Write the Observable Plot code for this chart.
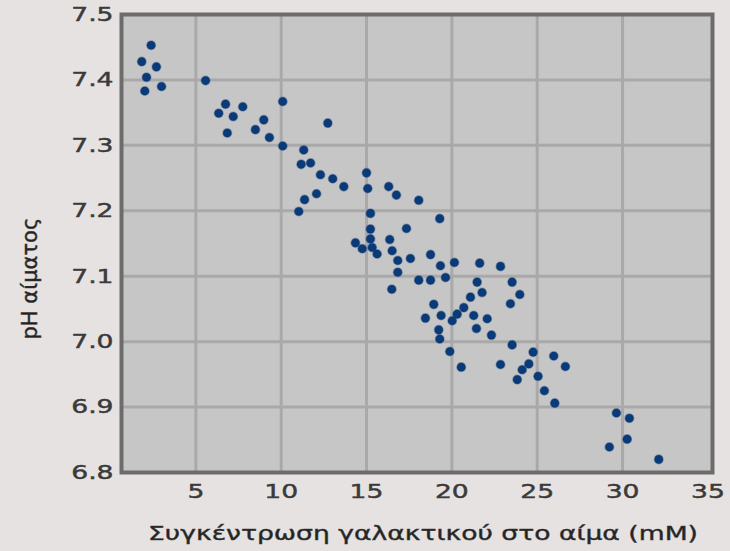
<!DOCTYPE html>
<html><head><meta charset="utf-8">
<script src="https://cdn.jsdelivr.net/npm/d3@7"></script>
<script src="https://cdn.jsdelivr.net/npm/@observablehq/plot@0.6"></script>
<style>
html,body{margin:0;padding:0;background:#e6e2e1;overflow:hidden;}
svg text{stroke:currentColor;stroke-width:0.45px;}
</style>
</head><body><div id="chart"></div>
<script>
const lactate = [2.38,1.83,2.69,2.11,5.57,2.99,2.01,6.74,7.75,10.09,6.34,7.19,8.98,12.73,6.84,8.49,9.31,10.09,11.32,11.17,11.72,12.30,13.02,13.67,15.00,15.07,16.30,16.75,18.06,12.07,11.37,11.03,15.23,19.29,17.34,15.23,14.35,15.23,14.75,15.33,15.62,16.36,16.50,16.83,17.57,18.75,19.33,20.15,21.63,22.85,16.83,18.06,18.75,19.63,16.48,21.48,21.77,21.09,20.70,20.31,18.94,18.45,19.37,20.02,21.28,22.07,19.23,19.29,21.44,22.32,19.88,23.53,23.98,23.43,23.53,20.55,22.85,24.76,25.97,26.65,24.51,24.12,23.83,25.05,25.42,26.03,29.64,30.40,30.27,29.23,32.12];
const ph = [7.453,7.428,7.420,7.404,7.399,7.390,7.383,7.363,7.359,7.367,7.349,7.344,7.339,7.334,7.319,7.324,7.312,7.299,7.293,7.271,7.273,7.255,7.249,7.237,7.258,7.234,7.237,7.224,7.216,7.226,7.217,7.199,7.196,7.188,7.173,7.172,7.151,7.157,7.142,7.144,7.134,7.156,7.139,7.124,7.127,7.133,7.116,7.121,7.120,7.115,7.106,7.094,7.094,7.098,7.080,7.091,7.075,7.068,7.052,7.042,7.057,7.036,7.040,7.032,7.040,7.035,7.018,7.004,7.020,7.010,6.985,7.091,7.072,7.058,6.995,6.961,6.965,6.984,6.978,6.962,6.966,6.957,6.942,6.947,6.925,6.906,6.891,6.883,6.851,6.839,6.820];
const xTicks = [5,10,15,20,25,30,35];
const yTicks = [6.8,6.9,7.0,7.1,7.2,7.3,7.4,7.5];
const xLabel = "Συγκέντρωση γαλακτικού στο αίμα (mM)";
const yLabel = "pH αίματος";

const data = lactate.map((x, i) => ({x, y: ph[i]}));

const chart = Plot.plot({
  width: 730, height: 551,
  marginLeft: 121, marginRight: 18, marginTop: 14, marginBottom: 79,
  style: {background: "#e6e2e1", fontFamily: "DejaVu Sans", fontSize: "20px", color: "#3a3a3a"},
  x: {domain: [0.644, 35.27]},
  y: {domain: [6.8, 7.5]},
  marks: [
    Plot.frame({fill: "#c6c6c6"}),
    Plot.gridX(xTicks.slice(0, -1), {stroke: "#a9a9a9", strokeWidth: 3, strokeOpacity: 1}),
    Plot.gridY(yTicks.slice(1, -1), {stroke: "#a9a9a9", strokeWidth: 3, strokeOpacity: 1}),
    Plot.frame({stroke: "#6c6c6c", strokeWidth: 4}),
    Plot.axisX(xTicks, {tickSize: 0, tickPadding: 11, label: null, fontSize: 20, fill: "#3a3a3a"}),
    Plot.axisY(yTicks, {tickSize: 0, tickPadding: 8, label: null, fontSize: 20, fill: "#3a3a3a", tickFormat: d3.format(".1f")}),
    Plot.dot(data, {x: "x", y: "y", r: 4.3, fill: "#0b3a78", stroke: "#0b3a78", strokeOpacity: 0.35, strokeWidth: 1.5}),
    Plot.text([xLabel], {text: d => d, frameAnchor: "bottom", dx: 6, dy: 61, lineAnchor: "middle", fontSize: 20, fill: "#222"}),
    Plot.text([yLabel], {text: d => d, frameAnchor: "left", dx: -91, dy: 96, rotate: -90, lineAnchor: "middle", fontSize: 21, fill: "#222"})
  ]
});
document.getElementById("chart").append(chart);

const stretch = 1.33;
chart.querySelectorAll("text").forEach(t => {
  const g = t.closest("g");
  const aria = g ? (g.getAttribute("aria-label") || "") : "";
  if (aria.includes("tick label") || t.textContent === xLabel) {
    const w = t.getComputedTextLength();
    t.setAttribute("textLength", w * stretch);
    t.setAttribute("lengthAdjust", "spacingAndGlyphs");
  }
});
</script>
</body></html>
